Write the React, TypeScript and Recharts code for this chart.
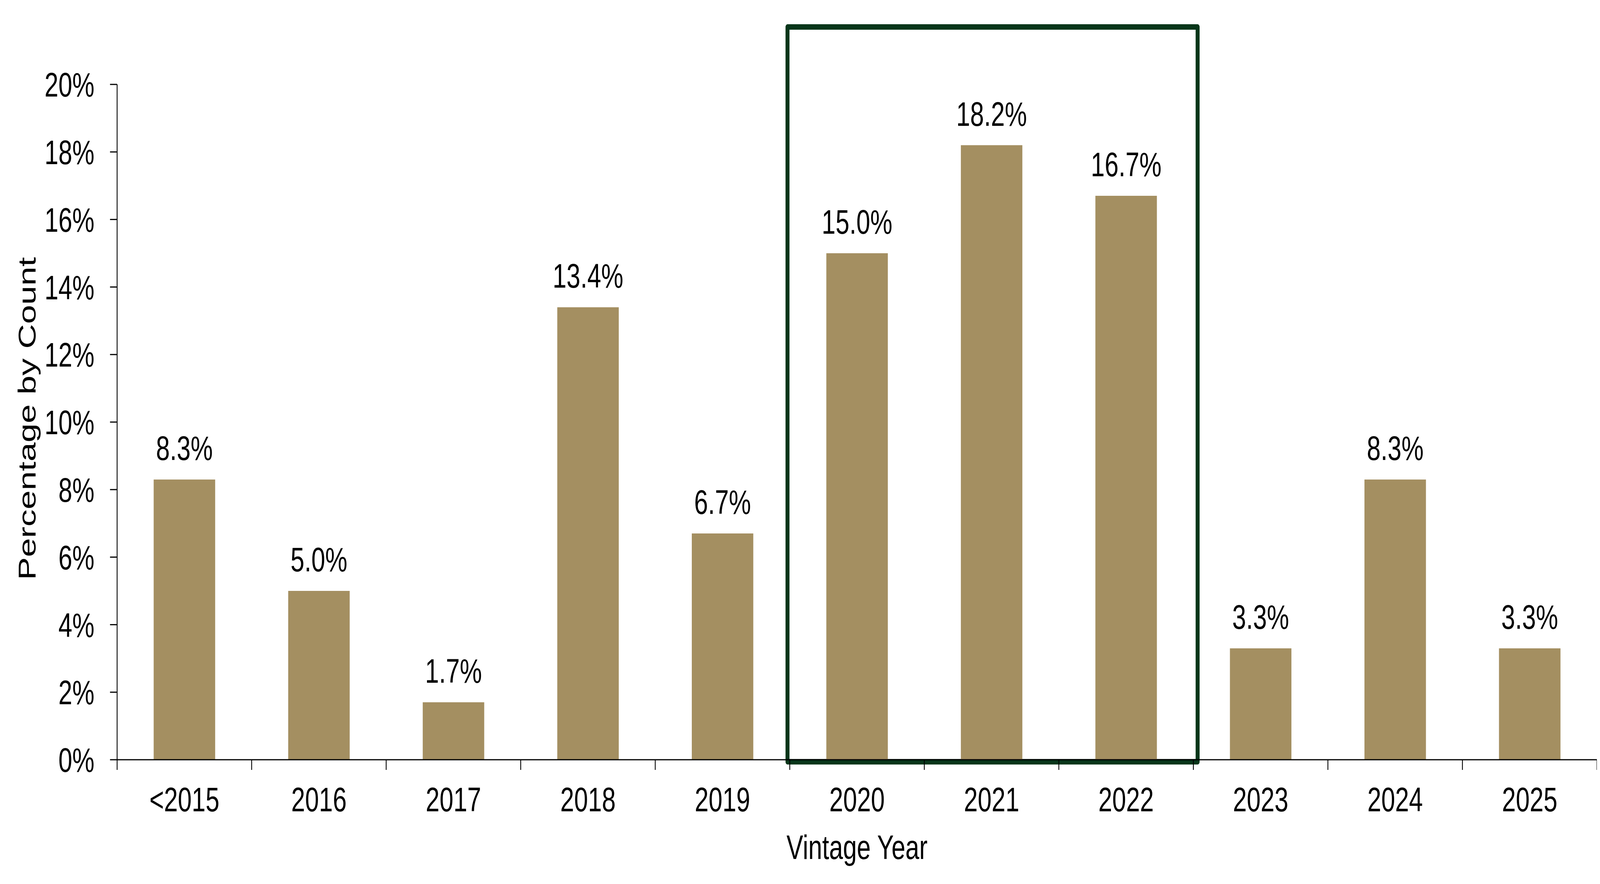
import React from "react";
import {
  Bar,
  BarChart,
  LabelList,
  ReferenceArea,
  XAxis,
  YAxis
} from "recharts";

const CATEGORIES = ["<2015", "2016", "2017", "2018", "2019", "2020", "2021", "2022", "2023", "2024", "2025"];
const SHARES = [8.3, 5.0, 1.7, 13.4, 6.7, 15.0, 18.2, 16.7, 3.3, 8.3, 3.3];
const Y_TICKS = [0, 2, 4, 6, 8, 10, 12, 14, 16, 18, 20];

// boxed vintages, top edge in % units (box reaches above the plot)
const HIGHLIGHT_FROM = "2020";
const HIGHLIGHT_TO = "2022";
const HIGHLIGHT_TOP = 21.7;
const HIGHLIGHT_BOTTOM = -0.06;

const data = CATEGORIES.map((name, i) => ({ name, value: SHARES[i] }));

// chart is laid out for a 5646px wide page; squeezed to whatever the window gives
const PAGE_W = 5646;
const WIDTH = 5630;
const HEIGHT = 2246;
const MARGIN = { top: 208, right: 3, left: 0, bottom: 0 };
const Y_AXIS_W = 405;
const X_AXIS_H = 310;
const PLOT_W = WIDTH - MARGIN.left - MARGIN.right - Y_AXIS_W;
const BAND = PLOT_W / CATEGORIES.length;

const FONT = "'Liberation Sans', Arial, Helvetica, sans-serif";
const FONT_SIZE = 88;
const BAR_COLOR = "#a48f61";
const BOX_COLOR = "#07361a";
const X_TICK_MARGIN = 70;
const EDGE_TICK = 26;

function CategoryTick(props: any) {
  const { x, y, payload, index } = props;
  const axisY = y - X_TICK_MARGIN;
  const left = x - BAND / 2;
  const right = x + BAND / 2;
  return (
    <g>
      <line x1={left} x2={left} y1={axisY} y2={axisY + EDGE_TICK} stroke="#000" strokeWidth={3} />
      {index === CATEGORIES.length - 1 && (
        <line x1={right} x2={right} y1={axisY} y2={axisY + EDGE_TICK} stroke="#000" strokeWidth={3} />
      )}
      <text
        x={x}
        y={y}
        dy="0.71em"
        textAnchor="middle"
        fill="#000"
        fontSize={FONT_SIZE}
        fontFamily={FONT}
      >
        {payload.value}
      </text>
    </g>
  );
}

function YTitle(props: any) {
  const { viewBox } = props;
  const cy = viewBox.y + viewBox.height / 2 - 9;
  return (
    <text
      transform={`translate(${viewBox.x + 117},${cy}) rotate(-90)`}
      textAnchor="middle"
      fill="#000"
      fontSize={FONT_SIZE}
      fontFamily={FONT}
    >
      Percentage by Count
    </text>
  );
}

function HighlightBox(props: any) {
  const { x, y, width, height } = props;
  return (
    <rect
      x={x - 8}
      y={y}
      width={width + 23}
      height={height}
      fill="none"
      stroke={BOX_COLOR}
      strokeWidth={14}
      strokeLinejoin="round"
    />
  );
}

export default function App() {
  const viewW = typeof window !== "undefined" ? window.innerWidth : PAGE_W;
  const sx = Math.min(1, viewW / PAGE_W);
  return (
    <div style={{ width: WIDTH * sx, height: HEIGHT, overflow: "hidden", marginLeft: 8 * sx - 8 }}>
      <div
        style={{
          width: WIDTH,
          height: HEIGHT,
          fontFamily: FONT,
          background: "#fff",
          transform: `scaleX(${sx})`,
          transformOrigin: "0 0"
        }}
      >
        <BarChart width={WIDTH} height={HEIGHT} data={data} margin={MARGIN}>
          <XAxis
            dataKey="name"
            height={X_AXIS_H}
            interval={0}
            tickLine={false}
            tickSize={0}
            tickMargin={X_TICK_MARGIN}
            axisLine={{ stroke: "#000", strokeWidth: 3 }}
            tick={<CategoryTick />}
            label={{
              value: "Vintage Year",
              position: "insideBottom",
              offset: 56,
              fill: "#000",
              fontSize: FONT_SIZE,
              fontFamily: FONT
            }}
          />
          <YAxis
            width={Y_AXIS_W}
            domain={[0, 20]}
            ticks={Y_TICKS}
            interval={0}
            tickFormatter={(v: number) => `${v}%`}
            tickSize={25}
            tickMargin={55}
            axisLine={{ stroke: "#000", strokeWidth: 3 }}
            tickLine={{ stroke: "#000", strokeWidth: 3 }}
            tick={{ fill: "#000", fontSize: FONT_SIZE, fontFamily: FONT }}
            label={<YTitle />}
          />
          <Bar dataKey="value" fill={BAR_COLOR} barSize={217} isAnimationActive={false}>
            <LabelList
              dataKey="value"
              position="top"
              offset={50}
              formatter={(v: number) => `${v.toFixed(1)}%`}
              fill="#000"
              fontSize={FONT_SIZE}
              fontFamily={FONT}
            />
          </Bar>
          <ReferenceArea
            x1={HIGHLIGHT_FROM}
            x2={HIGHLIGHT_TO}
            y1={HIGHLIGHT_BOTTOM}
            y2={HIGHLIGHT_TOP}
            ifOverflow="visible"
            shape={<HighlightBox />}
          />
        </BarChart>
      </div>
    </div>
  );
}
